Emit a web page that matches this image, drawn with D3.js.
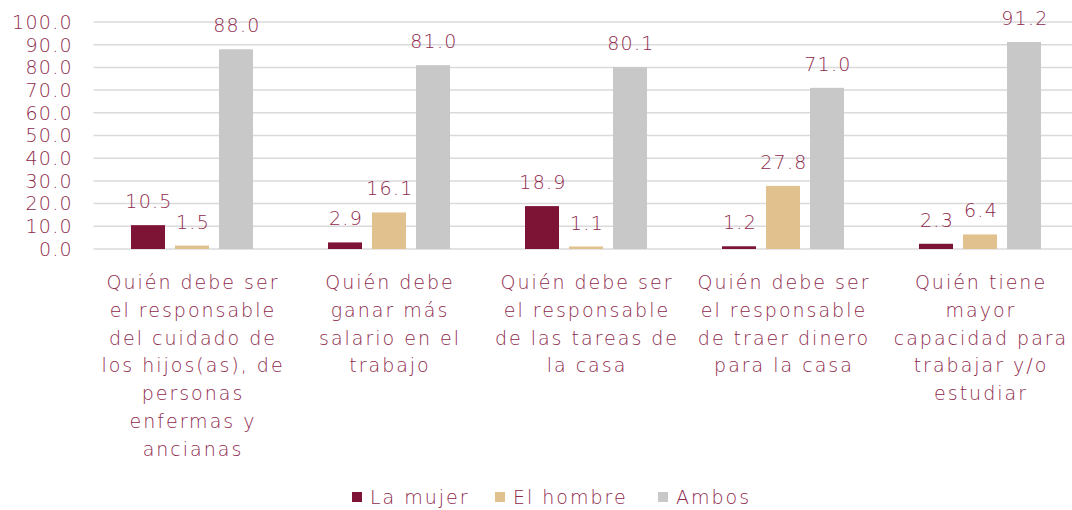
<!DOCTYPE html>
<html>
<head>
<meta charset="utf-8">
<script src="https://cdn.jsdelivr.net/npm/d3@7"></script>
<style>
  html, body { margin:0; padding:0; background:#fff; }
  svg { display:block; font-family:"DejaVu Sans", sans-serif; font-weight:200; }
  .num { letter-spacing:1.3px; }
  .lbl { letter-spacing:2px; }
</style>
</head>
<body>
<svg id="chart" width="1072" height="510"></svg>
<script>
// --- Data ---
const categories = [
  ["Quién debe ser", "el responsable", "del cuidado de", "los hijos(as), de", "personas", "enfermas y", "ancianas"],
  ["Quién debe", "ganar más", "salario en el", "trabajo"],
  ["Quién debe ser", "el responsable", "de las tareas de", "la casa"],
  ["Quién debe ser", "el responsable", "de traer dinero", "para la casa"],
  ["Quién tiene", "mayor", "capacidad para", "trabajar y/o", "estudiar"]
];
const seriesNames = ["La mujer", "El hombre", "Ambos"];
const mujer  = [10.5, 2.9, 18.9, 1.2, 2.3];
const hombre = [1.5, 16.1, 1.1, 27.8, 6.4];
const ambos  = [88.0, 81.0, 80.1, 71.0, 91.2];
const yTicks = [0, 10, 20, 30, 40, 50, 60, 70, 80, 90, 100];

const colors = ["#7d1436", "#e1c18d", "#c8c8c8"];
const textColor = "#8e2a4c";

// --- Layout ---
const svg = d3.select("#chart");
const X0 = 93.5, X1 = 1078.5, Y0 = 249, Y1 = 22;

const x = d3.scaleBand().domain(d3.range(categories.length)).range([X0, X1]);
const xs = d3.scaleBand().domain(seriesNames).range([0, 122]).paddingInner(10/44).paddingOuter(0);
const y = d3.scaleLinear().domain([0, 100]).range([Y0, Y1]);

// gridlines
svg.append("g").selectAll("line").data(yTicks).enter().append("line")
  .attr("x1", X0).attr("x2", 1072)
  .attr("y1", d => y(d)).attr("y2", d => y(d))
  .attr("stroke", "#dadada").attr("stroke-width", 1.5);

// y tick labels
svg.append("g").selectAll("text").data(yTicks).enter().append("text")
  .attr("class", "num")
  .attr("x", 73).attr("y", d => y(d)).attr("dy", "0.36em")
  .attr("text-anchor", "end")
  .attr("fill", textColor).attr("font-size", 19)
  .text(d => d3.format(".1f")(d));

// bars
const rows = categories.map((c, i) => ({ i, vals: [mujer[i], hombre[i], ambos[i]] }));
const groups = svg.append("g").selectAll("g").data(rows).enter().append("g")
  .attr("transform", d => `translate(${x(d.i) + x.bandwidth()/2 - 61},0)`);

const cells = d => d.vals.map((v, k) => ({ v, k, name: seriesNames[k] }));
groups.selectAll("rect").data(cells).enter().append("rect")
  .attr("x", d => xs(d.name))
  .attr("width", xs.bandwidth())
  .attr("y", d => y(d.v))
  .attr("height", d => Y0 - y(d.v))
  .attr("fill", d => colors[d.k]);

groups.selectAll("text").data(cells).enter().append("text")
  .attr("class", "num")
  .attr("x", d => xs(d.name) + xs.bandwidth()/2 + 1)
  .attr("y", d => y(d.v) - 17)
  .attr("text-anchor", "middle")
  .attr("fill", textColor).attr("font-size", 19)
  .text(d => d3.format(".1f")(d.v));

// category labels
const cat = svg.append("g").selectAll("text").data(categories).enter().append("text")
  .attr("class", "lbl")
  .attr("x", (d, i) => x(i) + x.bandwidth()/2 + 1)
  .attr("text-anchor", "middle")
  .attr("fill", textColor).attr("font-size", 19);
cat.selectAll("tspan").data(d => d).enter().append("tspan")
  .attr("x", function(){ return this.parentNode.getAttribute("x"); })
  .attr("y", (d, j) => 289 + j * 27.8)
  .text(d => d);

// legend
const legX = [352, 495, 658];
const leg = svg.append("g").selectAll("g").data(seriesNames).enter().append("g")
  .attr("transform", (d, i) => `translate(${legX[i]},492)`);
leg.append("rect").attr("width", 10).attr("height", 10).attr("fill", (d, i) => colors[i]);
leg.append("text").attr("class", "lbl").attr("x", 18).attr("y", 5).attr("dy", "0.36em")
  .attr("fill", textColor).attr("font-size", 19)
  .text(d => d);
</script>
</body>
</html>
